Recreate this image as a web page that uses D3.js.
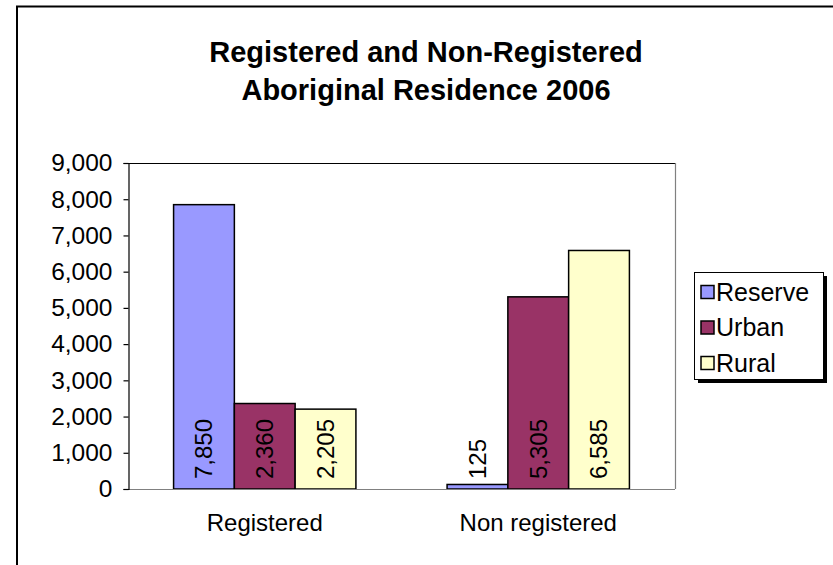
<!DOCTYPE html>
<html>
<head>
<meta charset="utf-8">
<script src="https://cdn.jsdelivr.net/npm/d3@7/dist/d3.min.js"></script>
<style>
  html, body { margin: 0; padding: 0; background: #fff; }
  svg { display: block; font-family: "Liberation Sans", Arial, sans-serif; }
</style>
</head>
<body>
<svg id="chart" width="833" height="565"></svg>
<script>
const categories = ["Registered", "Non registered"];
const seriesNames = ["Reserve", "Urban", "Rural"];
const reserveValues = [7850, 125];
const urbanValues = [2360, 5305];
const ruralValues = [2205, 6585];
const yTicks = [0, 1000, 2000, 3000, 4000, 5000, 6000, 7000, 8000, 9000];
const titleLines = ["Registered and Non-Registered", "Aboriginal Residence 2006"];
const colors = ["#9999FF", "#993366", "#FFFFCC"];

const seriesValues = [reserveValues, urbanValues, ruralValues];
const svg = d3.select("#chart");

// outer chart border
svg.append("rect").attr("x", 17).attr("y", 6.5).attr("width", 900).attr("height", 700)
  .attr("fill", "#fff").attr("stroke", "#000").attr("stroke-width", 2);

// title
const title = svg.append("text").attr("text-anchor", "middle")
  .attr("font-size", 29).attr("font-weight", "bold").attr("fill", "#000");
titleLines.forEach((t, i) => {
  title.append("tspan").attr("x", 426).attr("y", 62 + i * 38).text(t);
});

const plot = { left: 128, right: 675, top: 163, bottom: 489 };

const y = d3.scaleLinear().domain([0, 9000]).range([plot.bottom, plot.top]);
const x0 = d3.scaleBand().domain(categories).range([plot.left, plot.right]).paddingInner(0).paddingOuter(0);
const x1 = d3.scaleBand().domain(seriesNames).range([0, x0.bandwidth()]).paddingInner(0).paddingOuter(0.75);

// plot area border (top and right)
svg.append("line").attr("x1", plot.left).attr("x2", plot.right).attr("y1", plot.top + 0.5).attr("y2", plot.top + 0.5)
  .attr("stroke", "#000").attr("stroke-width", 1.2);
svg.append("line").attr("x1", plot.right + 0.5).attr("x2", plot.right + 0.5).attr("y1", plot.top).attr("y2", plot.bottom)
  .attr("stroke", "#808080").attr("stroke-width", 1.2);

// bars
const data = [];
categories.forEach((c, ci) => {
  seriesNames.forEach((s, si) => {
    data.push({ cat: c, series: s, value: seriesValues[si][ci], color: colors[si] });
  });
});

const barG = svg.append("g");
barG.selectAll("rect").data(data).enter().append("rect")
  .attr("x", d => x0(d.cat) + x1(d.series))
  .attr("y", d => y(d.value))
  .attr("width", x1.bandwidth())
  .attr("height", d => y(0) - y(d.value))
  .attr("fill", d => d.color)
  .attr("stroke", "#000").attr("stroke-width", 1.5);

// data labels (rotated, inside base)
barG.selectAll("text").data(data).enter().append("text")
  .attr("transform", d => `translate(${x0(d.cat) + x1(d.series) + x1.bandwidth() / 2},${y(0) - 10}) rotate(-90)`)
  .attr("text-anchor", "start")
  .attr("dy", "0.35em")
  .attr("font-size", 24)
  .attr("fill", "#000")
  .text(d => d3.format(",")(d.value));

// x axis line
svg.append("line").attr("x1", plot.left).attr("x2", plot.right).attr("y1", plot.bottom + 0.5).attr("y2", plot.bottom + 0.5)
  .attr("stroke", "#808080").attr("stroke-width", 1.2);

// y axis
const yAxis = d3.axisLeft(y).tickValues(yTicks).tickFormat(d3.format(",")).tickSize(5).tickPadding(11);
const yg = svg.append("g").attr("transform", `translate(${plot.left + 0.5},0)`).call(yAxis);
yg.select(".domain").attr("stroke", "#000").attr("stroke-width", 1.2);
yg.selectAll(".tick line").attr("stroke", "#000").attr("stroke-width", 1.2);
yg.selectAll(".tick text").attr("font-size", 24.5).attr("font-family", "Liberation Sans, Arial, sans-serif").attr("fill", "#000");

// category labels
const xAxis = d3.axisBottom(x0).tickSize(0).tickPadding(25);
const xg = svg.append("g").attr("transform", `translate(0,${plot.bottom})`).call(xAxis);
xg.select(".domain").remove();
xg.selectAll(".tick text").attr("font-size", 24).attr("font-family", "Liberation Sans, Arial, sans-serif").attr("fill", "#000");

// legend
const lg = svg.append("g");
const lx = 694, ly = 272, lw = 129, lh = 107;
lg.append("rect").attr("x", lx + 4).attr("y", ly + 4).attr("width", lw).attr("height", lh).attr("fill", "#000");
lg.append("rect").attr("x", lx + 0.5).attr("y", ly + 0.5).attr("width", lw).attr("height", lh)
  .attr("fill", "#fff").attr("stroke", "#000").attr("stroke-width", 1);
seriesNames.forEach((s, i) => {
  const cy = ly + 20 + i * 35.5;
  lg.append("rect").attr("x", lx + 7).attr("y", cy - 6.5).attr("width", 13).attr("height", 13)
    .attr("fill", colors[i]).attr("stroke", "#000").attr("stroke-width", 1.5);
  lg.append("text").attr("x", lx + 22).attr("y", cy).attr("dy", "0.35em")
    .attr("font-size", 25).attr("fill", "#000").text(s);
});
</script>
</body>
</html>
